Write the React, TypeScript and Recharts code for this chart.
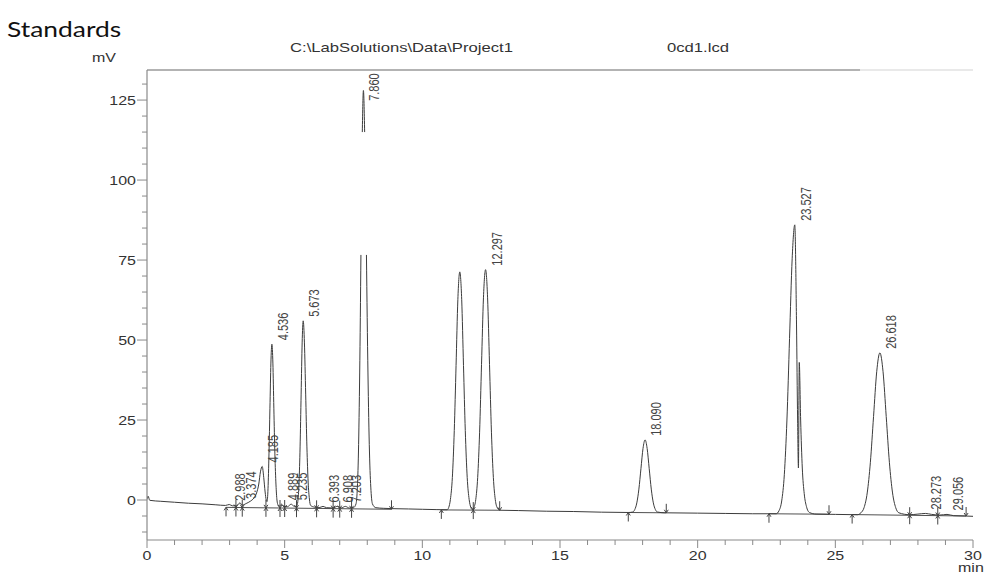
import React from 'react';
import { ComposedChart, Line, Scatter, XAxis, YAxis, ReferenceLine } from 'recharts';

// ---- data (time in min, signal in mV) ----
const chromatogram: [number, number | null][] = [
  [0, 0.2], [0.04, 1.2], [0.1, -0.1], [0.5, -0.4], [1.0, -0.7], [1.5, -1.0], [2.0, -1.2], [2.5, -1.5],
  [2.85, -1.7], [2.988, -1.4], [3.1, -1.8], [3.25, -1.8], [3.374, -0.9], [3.46, -1.6], [3.6, -1.1],
  [3.75, -0.4], [3.88, 0.6], [3.98, 2.2], [4.06, 5.0], [4.12, 8.8], [4.185, 10.5], [4.24, 7.0],
  [4.29, 2.5], [4.33, 0.0], [4.36, -0.5], [4.395, 3.5], [4.43, 14.4], [4.465, 28.7], [4.5, 42.8],
  [4.536, 48.7], [4.572, 42.8], [4.607, 28.7], [4.645, 14.4], [4.685, 4.7], [4.72, 0.0], [4.76, -1.6],
  [4.8, -2.0], [4.889, -1.3], [4.96, -2.0], [5.1, -2.1], [5.235, -1.3], [5.33, -1.9], [5.4, -2.0],
  [5.448, -1.7], [5.486, 0.3], [5.523, 5.6], [5.56, 16.6], [5.598, 33.1], [5.635, 49.1], [5.673, 56.0],
  [5.718, 49.1], [5.763, 33.1], [5.808, 16.6], [5.853, 5.6], [5.898, 0.3], [5.943, -1.7], [6.07, -2.2],
  [6.25, -2.4], [6.393, -2.0], [6.52, -2.4], [6.75, -2.5], [6.908, -2.0], [7.05, -2.5], [7.203, -2.0],
  [7.35, -2.5], [7.5, -2.4], [7.59, -1.25], [7.635, 3.0], [7.68, 15.0], [7.725, 39.7], [7.77, 76.6],
  [7.795, null], [7.82, 115], [7.86, 128], [7.905, 115], [7.94, null], [7.97, 76.6], [8.025, 39.7],
  [8.08, 15.0], [8.135, 3.0], [8.19, -1.25], [8.31, -2.4], [8.6, -2.6], [8.9, -2.7], [9.5, -2.8],
  [10.0, -2.9], [10.5, -3.0], [10.9, -3.05], [10.96, -2.3], [11.02, 0.2], [11.09, 7.0], [11.16, 21.7],
  [11.225, 42.0], [11.29, 62.6], [11.36, 71.3], [11.43, 62.6], [11.495, 42.0], [11.56, 21.7],
  [11.63, 7.0], [11.7, 0.2], [11.76, -2.3], [11.815, -3.0], [11.87, -2.4], [11.94, 0.1], [12.01, 7.0],
  [12.08, 21.2], [12.15, 42.4], [12.22, 63.2], [12.297, 72.0], [12.37, 63.2], [12.44, 42.4],
  [12.51, 21.2], [12.58, 7.0], [12.65, 0.1], [12.72, -2.4], [12.82, -3.2], [13.5, -3.3], [14.5, -3.5],
  [15.5, -3.6], [16.5, -3.8], [17.5, -3.9], [17.64, -3.75], [17.715, -3.0], [17.79, -0.9],
  [17.865, 3.4], [17.94, 9.8], [18.015, 16.1], [18.09, 18.8], [18.165, 16.1], [18.24, 9.8],
  [18.315, 3.4], [18.39, -0.9], [18.465, -3.0], [18.54, -3.75], [18.8, -4.0], [20, -4.1], [21, -4.2],
  [22, -4.3], [22.85, -4.3], [22.957, -3.3], [23.052, -0.3], [23.147, 7.9], [23.242, 25.0],
  [23.337, 50.5], [23.432, 75.4], [23.527, 86.0], [23.59, 55.0], [23.63, 25.0], [23.66, 10.0],
  [23.69, 43.0], [23.74, 25.0], [23.8, 10.0], [23.87, 2.0], [23.95, -2.0], [24.06, -3.9], [24.3, -4.4],
  [25.0, -4.5], [25.8, -4.6], [25.928, -4.0], [26.043, -2.4], [26.158, 2.2], [26.273, 11.8],
  [26.388, 26.1], [26.503, 40.1], [26.618, 46.0], [26.733, 40.1], [26.848, 26.1], [26.963, 11.8],
  [27.078, 2.2], [27.193, -2.4], [27.308, -4.0], [27.7, -4.6], [28.0, -4.4], [28.273, -4.2],
  [28.5, -4.5], [28.8, -4.7], [29.056, -4.5], [29.3, -4.9], [29.7, -5.0], [30, -5.1],
];

// integration baselines drawn by the software (null = break)
const integrationBaseline: [number, number | null][] = [
  [2.87, -2.3], [8.88, -2.9], [8.89, null], [10.69, -3.1], [12.81, -3.2], [12.82, null],
  [17.48, -3.9], [18.86, -4.0], [18.87, null], [22.59, -4.3], [24.77, -4.45], [24.78, null],
  [25.61, -4.55], [29.75, -5.0],
];

// peak labels: retention time and the signal level at which each label sits
const peakTimes = [2.988, 3.374, 4.185, 4.536, 4.889, 5.235, 5.673, 6.393, 6.908, 7.203, 7.86, 12.297, 18.09, 23.527, 26.618, 28.273, 29.056];
const peakLabelLevel = [-1.5, -0.9, 10.5, 48.7, -1.3, -1.3, 56.0, -2.0, -2.0, -2.0, 123.5, 72.0, 18.8, 86.0, 46.0, -4.2, -4.5];
const peakLabels = ['2.988', '3.374', '4.185', '4.536', '4.889', '5.235', '5.673', '6.393', '6.908', '7.203', '7.860', '12.297', '18.090', '23.527', '26.618', '28.273', '29.056'];

const markerTimes = [2.87, 3.23, 3.46, 4.32, 4.83, 5.0, 5.43, 6.16, 6.76, 7.0, 7.43, 8.88, 10.69, 11.85, 12.81, 17.48, 18.86, 22.59, 24.77, 25.61, 27.7, 28.72, 29.75];
const markerValues = [-2.3, -2.35, -2.4, -2.45, -2.5, -2.5, -2.55, -2.6, -2.7, -2.7, -2.75, -2.9, -3.1, -3.15, -3.2, -3.9, -4.0, -4.3, -4.45, -4.55, -4.75, -4.85, -5.0];
const markerKinds = ['up', 'cross', 'cross', 'cross', 'cross', 'cross', 'cross', 'cross', 'cross', 'cross', 'cross', 'down', 'up', 'cross', 'down', 'up', 'down', 'up', 'down', 'up', 'cross', 'cross', 'down'];

const xTicks = [0, 1, 2, 3, 4, 5, 6, 7, 8, 9, 10, 11, 12, 13, 14, 15, 16, 17, 18, 19, 20, 21, 22, 23, 24, 25, 26, 27, 28, 29, 30];
const xLabelled = [0, 5, 10, 15, 20, 25, 30];
const yTicks = [-10, -5, 0, 5, 10, 15, 20, 25, 30, 35, 40, 45, 50, 55, 60, 65, 70, 75, 80, 85, 90, 95, 100, 105, 110, 115, 120, 125, 130];
const yLabelled = [0, 25, 50, 75, 100, 125];

const traceData = chromatogram.map(([t, v]) => ({ t, v }));
const baseData = integrationBaseline.map(([t, v]) => ({ t, v }));
const peakData = peakTimes.map((t, i) => ({ t, v: peakLabelLevel[i], label: peakLabels[i] }));
const markerData = markerTimes.map((t, i) => ({ t, v: markerValues[i], kind: markerKinds[i] }));

const FONT = "'Liberation Sans', Arial, Helvetica, sans-serif";
const STRETCH = 1.28;
const AXIS = '#8a8a8a';
const INK = '#3c3c3c';

const XTick = (props: any) => {
  const { x, y, payload } = props;
  const v = payload.value;
  const major = xLabelled.includes(v);
  return (
    <g>
      <line x1={x} x2={x} y1={y} y2={y + (major ? 8 : 5)} stroke={AXIS} strokeWidth={1} />
      {major && (
        <text transform={`translate(${x},${y + 20}) scale(${STRETCH},1)`} textAnchor="middle" fontSize={12.5} fill="#333" fontFamily={FONT}>
          {v}
        </text>
      )}
    </g>
  );
};

const YTick = (props: any) => {
  const { x, y, payload } = props;
  const v = payload.value;
  const major = yLabelled.includes(v);
  return (
    <g>
      <line x1={x - (major ? 10 : 5)} x2={x} y1={y} y2={y} stroke={AXIS} strokeWidth={1} />
      {major && (
        <text transform={`translate(${x - 11},${y + 4.5}) scale(${STRETCH},1)`} textAnchor="end" fontSize={12.5} fill="#333" fontFamily={FONT}>
          {v}
        </text>
      )}
    </g>
  );
};

const PeakLabel = (props: any) => {
  const { cx, cy, payload } = props;
  if (cx == null || cy == null || !payload) return <g />;
  return (
    <text transform={`translate(${cx + 16},${cy - 4}) scale(${STRETCH},1) rotate(-90)`} fontSize={11} fill="#444" fontFamily={FONT}>
      {payload.label}
    </text>
  );
};

const Marker = (props: any) => {
  const { cx, cy, payload } = props;
  if (cx == null || cy == null || !payload) return <g />;
  const k = payload.kind;
  const s = { stroke: '#444', strokeWidth: 1, fill: 'none' };
  if (k === 'up') {
    return (
      <g>
        <line x1={cx} x2={cx} y1={cy} y2={cy + 9} {...s} />
        <polyline points={`${cx - 2},${cy + 3} ${cx},${cy} ${cx + 2},${cy + 3}`} {...s} />
      </g>
    );
  }
  if (k === 'down') {
    return (
      <g>
        <line x1={cx} x2={cx} y1={cy - 9} y2={cy} {...s} />
        <polyline points={`${cx - 2},${cy - 3} ${cx},${cy} ${cx + 2},${cy - 3}`} {...s} />
      </g>
    );
  }
  return (
    <g>
      <line x1={cx} x2={cx} y1={cy - 8} y2={cy + 9} {...s} />
      <polyline points={`${cx - 2},${cy - 3} ${cx},${cy} ${cx + 2},${cy - 3}`} {...s} />
      <polyline points={`${cx - 2},${cy + 3} ${cx},${cy} ${cx + 2},${cy + 3}`} {...s} />
    </g>
  );
};

const txt = (extra: React.CSSProperties): React.CSSProperties => ({
  position: 'absolute',
  fontFamily: FONT,
  fontSize: 13,
  lineHeight: 1,
  color: '#333',
  whiteSpace: 'nowrap',
  transform: `scaleX(${STRETCH})`,
  transformOrigin: 'left top',
  ...extra,
});

export default function App() {
  return (
    <div style={{ position: 'absolute', left: 0, top: 0, width: 985, height: 574, overflow: 'hidden', background: '#fff' }}>
      <ComposedChart width={985} height={574} margin={{ top: 70, right: 12, bottom: 4, left: 87 }}>
        <XAxis
          dataKey="t"
          type="number"
          domain={[0, 30]}
          ticks={xTicks}
          interval={0}
          allowDataOverflow
          tickSize={0}
          tickMargin={0}
          tickLine={false}
          axisLine={{ stroke: AXIS, strokeWidth: 1.2 }}
          tick={(p: any) => <XTick {...p} />}
          height={30}
        />
        <YAxis
          type="number"
          domain={[-12.5, 134.4]}
          ticks={yTicks}
          interval={0}
          allowDataOverflow
          tickSize={0}
          tickMargin={0}
          tickLine={false}
          axisLine={{ stroke: AXIS, strokeWidth: 1.2 }}
          tick={(p: any) => <YTick {...p} />}
          width={60}
        />
        <ReferenceLine segment={[{ x: 0, y: 134.4 }, { x: 25.9, y: 134.4 }]} stroke="#9a9a9a" strokeWidth={1.5} ifOverflow="visible" />
        <ReferenceLine segment={[{ x: 25.9, y: 134.4 }, { x: 30, y: 134.4 }]} stroke="#e2e2e2" strokeWidth={1.5} ifOverflow="visible" />
        <Line data={baseData} dataKey="v" type="linear" stroke={INK} strokeWidth={0.9} dot={false} isAnimationActive={false} />
        <Line data={traceData} dataKey="v" type="monotone" stroke={INK} strokeWidth={1} dot={false} isAnimationActive={false} />
        <Scatter data={markerData} dataKey="v" shape={(p: any) => <Marker {...p} />} isAnimationActive={false} />
        <Scatter data={peakData} dataKey="v" shape={(p: any) => <PeakLabel {...p} />} isAnimationActive={false} />
      </ComposedChart>
      <div style={{ position: 'absolute', left: 7, top: 18, fontFamily: "Lato, 'Open Sans', sans-serif", fontSize: 22, lineHeight: 1, color: '#111', transform: 'scaleX(1.2)', transformOrigin: 'left top', whiteSpace: 'nowrap' }}>
        Standards
      </div>
      <div style={txt({ left: 290, top: 41 })}>C:\LabSolutions\Data\Project1</div>
      <div style={txt({ left: 667, top: 41 })}>0cd1.lcd</div>
      <div style={txt({ left: 92, top: 52, fontSize: 12.5 })}>mV</div>
      <div style={txt({ left: 958, top: 562, fontSize: 12.5 })}>min</div>
    </div>
  );
}
